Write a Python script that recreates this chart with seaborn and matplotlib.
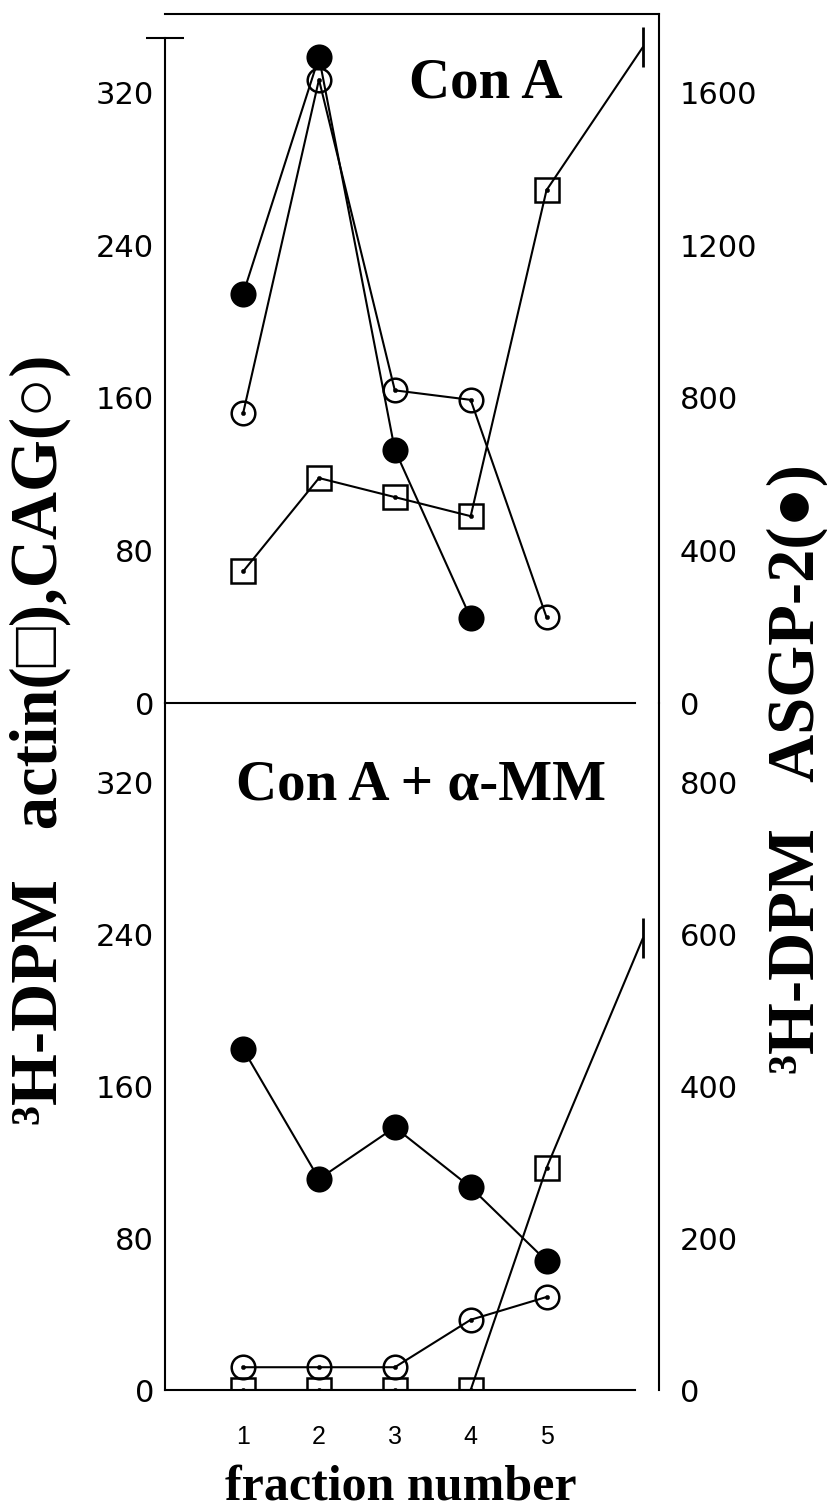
import matplotlib
matplotlib.use("Agg")
import matplotlib.pyplot as plt
import seaborn as sns
from matplotlib.ticker import FixedLocator

# ---------------- data ----------------
fractions = [1, 2, 3, 4, 5]

# Con A panel (left axis: actin, CAG ; right axis: ASGP-2)
cona_actin = [69, 118, 108, 98, 269]
cona_cag = [152, 327, 164, 159, 45]
cona_asgp2_fractions = [1, 2, 3, 4]
cona_asgp2 = [1073, 1694, 664, 223]

# Con A + alpha-MM panel
mm_actin = [0, 0, 0, 0, 117]
mm_cag = [12, 12, 12, 37, 49]
mm_asgp2 = [449, 278, 346, 267, 170]

# actin curves run off scale after fraction 5
actin_offscale_x = 6.27
cona_actin_offscale = 344
mm_actin_offscale = 238

left_ticks = [0, 80, 160, 240, 320]
cona_right_ticks = [0, 400, 800, 1200, 1600]
mm_right_ticks = [0, 200, 400, 600, 800]
x_ticks = [1, 2, 3, 4, 5]

# ---------------- style ----------------
sns.set_style("white")
plt.rcParams["font.family"] = ["DejaVu Sans"]
for k in ("text.color", "axes.labelcolor", "xtick.color", "ytick.color", "axes.edgecolor"):
    plt.rcParams[k] = "black"
SERIF = ["Liberation Serif", "DejaVu Serif"]
LW = 1.5
MS = 17
MEW = 1.8

W, H = 828, 1508
fig = plt.figure(figsize=(W / 100, H / 100), dpi=100)
fig.patch.set_facecolor("white")

x0_px, x1_px = 165, 659
ax_top = fig.add_axes([x0_px / W, 1 - 703 / H, (x1_px - x0_px) / W, (703 - 14) / H])
ax_bot = fig.add_axes([x0_px / W, 1 - 1390 / H, (x1_px - x0_px) / W, (1390 - 703) / H])
XLIM = (-0.03, 6.483)
X_END = 6.17


def line(ax, x, y, marker, filled, markevery=None):
    kw = dict(color="black", lw=LW, marker=marker, markersize=MS,
              markeredgecolor="black", markeredgewidth=MEW,
              markerfacecolor="black" if filled else "none")
    if markevery is not None:
        kw["markevery"] = markevery
    sns.lineplot(x=x, y=y, ax=ax, legend=False, estimator=None, sort=False, **kw)
    if not filled:
        sns.scatterplot(x=x[:5], y=y[:5], ax=ax, color="black", s=10,
                        edgecolor="black", legend=False, zorder=5)


def style_panel(ax, axr, ylim, rticks, rlim, top_panel):
    ax.set_xlim(*XLIM)
    ax.set_ylim(*ylim)
    axr.set_ylim(*rlim)
    for a in (ax, axr):
        a.set_facecolor("none")
        for s in a.spines.values():
            s.set_linewidth(LW)
            s.set_color("black")
    ax.spines["right"].set_visible(False)
    for side in ("left", "top", "bottom"):
        axr.spines[side].set_visible(False)
    ax.spines["bottom"].set_bounds(XLIM[0], X_END)
    ax.set_yticks(left_ticks)
    ax.set_yticklabels([str(t) for t in left_ticks])
    ax.tick_params(axis="y", which="major", length=0, pad=8, labelsize=22,
                   labelcolor="black")
    axr.set_yticks(rticks)
    axr.set_yticklabels([str(t) for t in rticks])
    axr.tick_params(axis="y", which="major", length=0, pad=15, labelsize=22,
                    labelcolor="black")
    axr.yaxis.set_minor_locator(FixedLocator([0]))
    axr.tick_params(axis="y", which="minor", direction="in", length=6, width=LW,
                    color="black")
    ax.xaxis.set_minor_locator(FixedLocator([X_END]))
    ax.tick_params(axis="x", which="minor", direction="inout", length=24, width=LW,
                   color="black")
    ax.set_xticks(x_ticks)
    ax.set_xlabel("")
    ax.set_ylabel("")
    axr.set_ylabel("")
    if top_panel:
        ax.tick_params(axis="x", which="major", length=0, labelbottom=False)
        ax.spines["left"].set_bounds(0, 349)
        ax.yaxis.set_minor_locator(FixedLocator([349]))
        ax.tick_params(axis="y", which="minor", direction="inout", length=27, width=LW,
                       color="black")
    else:
        ax.spines["top"].set_visible(False)
        ax.set_xticklabels([str(t) for t in x_ticks])
        ax.tick_params(axis="x", which="major", length=0, pad=25, labelsize=18,
                       labelcolor="black")
        for t in ax.get_xticklabels():
            t.set_family(["Liberation Sans", "DejaVu Sans"])


# ---------------- Con A panel ----------------
axr_top = ax_top.twinx()
line(ax_top, fractions + [actin_offscale_x], cona_actin + [cona_actin_offscale],
     "s", False, markevery=[0, 1, 2, 3, 4])
line(ax_top, fractions, cona_cag, "o", False)
line(axr_top, cona_asgp2_fractions, cona_asgp2, "o", True)
ax_top.plot([actin_offscale_x], [cona_actin_offscale], marker="|", ms=29,
            mew=2, color="black", linestyle="none")
style_panel(ax_top, axr_top, (0, 361.4), cona_right_ticks, (0, 361.4 * 5), True)
ax_top.text(0.650, 0.8795, "Con A", transform=ax_top.transAxes, ha="center",
            va="baseline", fontsize=41, fontweight="bold", family=SERIF, color="black")

# ---------------- Con A + alpha-MM panel ----------------
axr_bot = ax_bot.twinx()
line(ax_bot, fractions + [actin_offscale_x], mm_actin + [mm_actin_offscale],
     "s", False, markevery=[0, 1, 2, 3, 4])
line(ax_bot, fractions, mm_cag, "o", False)
line(axr_bot, fractions, mm_asgp2, "o", True)
ax_bot.plot([actin_offscale_x], [mm_actin_offscale], marker="|", ms=29,
            mew=2, color="black", linestyle="none")
style_panel(ax_bot, axr_bot, (0, 362), mm_right_ticks, (0, 362 * 2.5), False)
ax_bot.text(0.518, 0.859, "Con A + α-MM", transform=ax_bot.transAxes, ha="center",
            va="baseline", fontsize=41, fontweight="bold", family=SERIF, color="black")

# ---------------- axis titles ----------------
fig.text(40 / W, 1 - 740 / H, "³H-DPM   actin(□),CAG(○)", rotation=90,
         ha="center", va="center", fontsize=48, fontweight="bold", family=SERIF,
         color="black")
fig.text(797 / W, 1 - 769 / H, "³H-DPM   ASGP-2(●)", rotation=90,
         ha="center", va="center", fontsize=48, fontweight="bold", family=SERIF,
         color="black")
fig.text(401 / W, 1 - 1500 / H, "fraction number", ha="center", va="baseline",
         fontsize=36, fontweight="bold", family=SERIF, color="black")

fig.savefig("out.png", dpi=100, facecolor="white")
